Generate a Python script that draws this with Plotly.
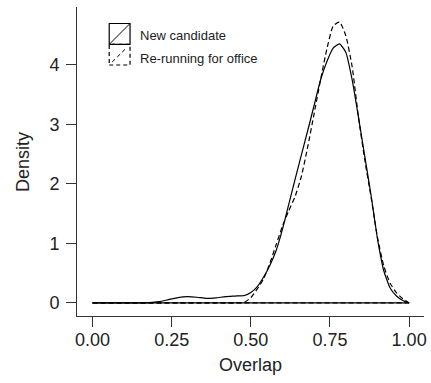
import plotly.graph_objects as go

# ---- data ----
overlap = [0.00, 0.12, 0.18, 0.21, 0.24, 0.27, 0.30, 0.33, 0.36, 0.39, 0.42, 0.45, 0.48,
           0.50, 0.52, 0.54, 0.56, 0.58, 0.60, 0.62, 0.64, 0.66, 0.68, 0.70, 0.72,
           0.74, 0.76, 0.78, 0.80, 0.82, 0.84, 0.86, 0.88, 0.90, 0.92, 0.94, 0.96,
           0.98, 1.00]

new_candidate = [0.0, 0.0, 0.005, 0.02, 0.055, 0.09, 0.105, 0.095, 0.075, 0.085, 0.105, 0.115, 0.125,
                 0.175, 0.27, 0.43, 0.63, 0.88, 1.24, 1.66, 2.08, 2.49, 2.90, 3.32, 3.74,
                 4.05, 4.28, 4.35, 4.21, 3.75, 3.12, 2.46, 1.80, 1.08, 0.54, 0.25, 0.115,
                 0.04, 0.0]

rerunning = [0.0, 0.0, 0.0, 0.0, 0.0, 0.0, 0.0, 0.0, 0.0, 0.0, 0.0, 0.002, 0.012,
             0.09, 0.23, 0.40, 0.66, 0.98, 1.29, 1.55, 1.79, 2.13, 2.63, 3.18, 3.74,
             4.26, 4.65, 4.72, 4.49, 3.97, 3.12, 2.40, 1.77, 1.10, 0.62, 0.33, 0.17,
             0.07, 0.0]

series_names = ["New candidate", "Re-running for office"]
x_ticks = [0.0, 0.25, 0.5, 0.75, 1.0]
x_tick_labels = ["0.00", "0.25", "0.50", "0.75", "1.00"]
y_ticks = [0, 1, 2, 3, 4]

# ---- layout geometry (pixels) ----
W, H = 431, 383
L, R, T, B = 77, 427, 7, 316

def px(x):
    return (x - L) / (R - L)

def py(y):
    return (B - y) / (B - T)

fig = go.Figure()

styles = [dict(color="black", width=1.2, dash="solid"),
          dict(color="black", width=1.2, dash="5px,3px")]

for name, ys, st in zip(series_names, [new_candidate, rerunning], styles):
    fig.add_trace(go.Scatter(x=overlap, y=ys, mode="lines", name=name,
                             line=dict(shape="spline", smoothing=0.5, **st),
                             showlegend=False))
    fig.add_trace(go.Scatter(x=[overlap[0], overlap[-1]], y=[0, 0], mode="lines",
                             line=dict(**st), showlegend=False, hoverinfo="skip"))

font_fam = "Liberation Sans, Arial, Helvetica, sans-serif"
txt_col = "#222222"

fig.update_layout(
    width=W, height=H,
    margin=dict(l=L, r=W - R, t=T, b=H - B, pad=0),
    paper_bgcolor="white", plot_bgcolor="white",
    font=dict(family=font_fam, size=18, color=txt_col),
    xaxis=dict(range=[-0.049, 1.047], tickvals=x_ticks, ticktext=x_tick_labels,
               showgrid=False, zeroline=False, showline=True, linecolor="#333333",
               linewidth=1, ticks="outside", ticklen=10, tickwidth=1, tickcolor="#333333",
               ticklabelstandoff=-3, tickfont=dict(size=18, color=txt_col)),
    yaxis=dict(range=[-0.22, 4.97], tickvals=y_ticks,
               showgrid=False, zeroline=False, showline=True, linecolor="#333333",
               linewidth=1, ticks="outside", ticklen=10, tickwidth=1, tickcolor="#333333",
               ticklabelstandoff=3, tickfont=dict(size=18, color=txt_col)),
    showlegend=False,
)

# axis titles
fig.add_annotation(text="Overlap", xref="paper", yref="paper", x=0.5, y=py(365),
                   showarrow=False, xanchor="center", yanchor="middle",
                   font=dict(size=18, color=txt_col))
fig.add_annotation(text="Density", xref="paper", yref="paper", x=px(22), y=0.5,
                   textangle=-90, showarrow=False, xanchor="center", yanchor="middle",
                   font=dict(size=18, color=txt_col))

# legend (drawn manually, R-style boxes)
bx0, bx1 = 109.5, 130.5
b1y0, b1y1 = 23.5, 44.3
b2y0, b2y1 = 44.3, 65.0
fig.add_shape(type="rect", xref="paper", yref="paper",
              x0=px(bx0), x1=px(bx1), y0=py(b2y1), y1=py(b2y0),
              line=dict(color="black", width=1.2, dash="4px,3px"))
fig.add_shape(type="line", xref="paper", yref="paper",
              x0=px(bx0 + 3), x1=px(bx1 - 3), y0=py(b2y1 - 3), y1=py(b2y0 + 3),
              line=dict(color="black", width=1, dash="4px,3px"))
fig.add_shape(type="rect", xref="paper", yref="paper",
              x0=px(bx0), x1=px(bx1), y0=py(b1y1), y1=py(b1y0),
              line=dict(color="black", width=1.2))
fig.add_shape(type="line", xref="paper", yref="paper",
              x0=px(bx0), x1=px(bx1), y0=py(b1y1), y1=py(b1y0),
              line=dict(color="black", width=1))
for name, cy in zip(series_names, [35, 58]):
    fig.add_annotation(text=name, xref="paper", yref="paper", x=px(139), y=py(cy),
                       showarrow=False, xanchor="left", yanchor="middle",
                       font=dict(size=13, color=txt_col))

fig.write_html("out.html")
